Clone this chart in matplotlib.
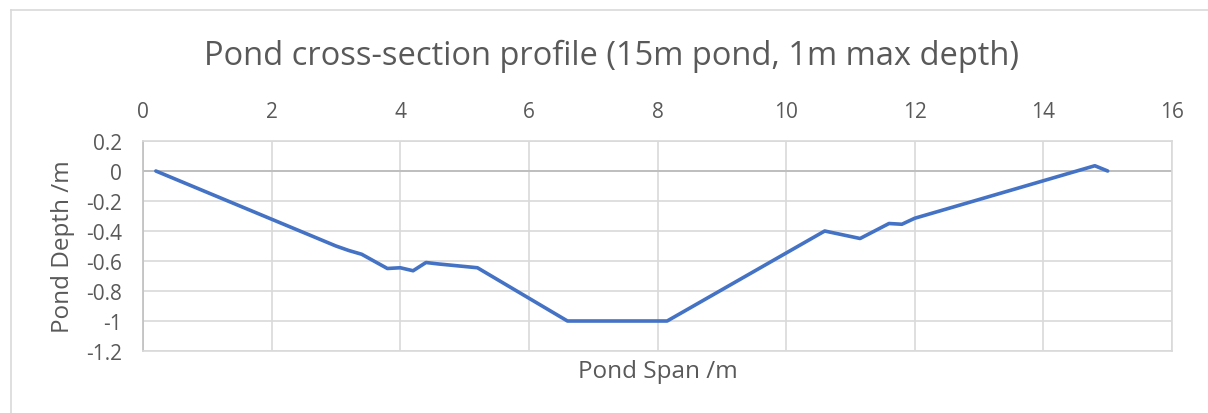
import matplotlib.pyplot as plt
from matplotlib.lines import Line2D

# Pond profile (span in m, depth in m)
span = [0.2, 3.0, 3.2, 3.4, 3.8, 4.0, 4.2, 4.4, 4.6, 5.2, 6.6, 6.75, 8.15,
        10.6, 11.15, 11.6, 11.8, 12.0, 14.8, 15.0]
depth = [0.0, -0.5, -0.53, -0.555, -0.65, -0.645, -0.665, -0.61, -0.62, -0.645,
         -1.0, -1.0, -1.0, -0.4, -0.45, -0.35, -0.355, -0.315, 0.035, 0.0]

x_ticks = [0, 2, 4, 6, 8, 10, 12, 14, 16]
y_ticks = [0.2, 0, -0.2, -0.4, -0.6, -0.8, -1, -1.2]

grey = '#595959'
grid = '#d9d9d9'

plt.rcParams['font.family'] = ['Open Sans', 'DejaVu Sans']

fig = plt.figure(figsize=(12.08, 4.14), dpi=100)
ax = fig.add_axes([143 / 1208, 1 - 352 / 414, (1172 - 143) / 1208, (352 - 142) / 414])

# outer chart frame (only top and left edges visible)
fig.add_artist(Line2D([10.5 / 1208, 10.5 / 1208], [0, 1 - 10.5 / 414],
                      transform=fig.transFigure, color=grid, lw=1.2))
fig.add_artist(Line2D([10.5 / 1208, 1], [1 - 10.5 / 414, 1 - 10.5 / 414],
                      transform=fig.transFigure, color=grid, lw=1.2))

ax.plot(span, depth, color='#4472c4', lw=2.6, solid_joinstyle='round',
        solid_capstyle='round', zorder=3)

ax.set_xlim(0, 16)
ax.set_ylim(-1.2, 0.2)
ax.set_xticks(x_ticks)
ax.set_yticks(y_ticks)
ax.set_yticklabels([f'{v:g}' for v in y_ticks])
ax.grid(True, color=grid, lw=1.2)
ax.axhline(0, color='#bfbfbf', lw=1.4, zorder=2)

ax.xaxis.tick_top()
ax.tick_params(axis='both', length=0, labelsize=15, colors=grey)
ax.tick_params(axis='y', pad=15)
ax.tick_params(axis='x', pad=13.5)
for side in ['top', 'right', 'bottom']:
    ax.spines[side].set_color(grid)
    ax.spines[side].set_linewidth(1.2)
ax.spines['left'].set_color('#bfbfbf')
ax.spines['left'].set_linewidth(1.2)

ax.set_xlabel('Pond Span /m', fontsize=17.5, color=grey, labelpad=6)
ax.set_ylabel('Pond Depth /m', fontsize=17.5, color=grey, labelpad=8)
fig.text(612 / 1208, 1 - 56 / 414, 'Pond cross-section profile (15m pond, 1m max depth)',
         ha='center', va='center', fontsize=23.5, color=grey)

fig.savefig('out.png', dpi=100)
